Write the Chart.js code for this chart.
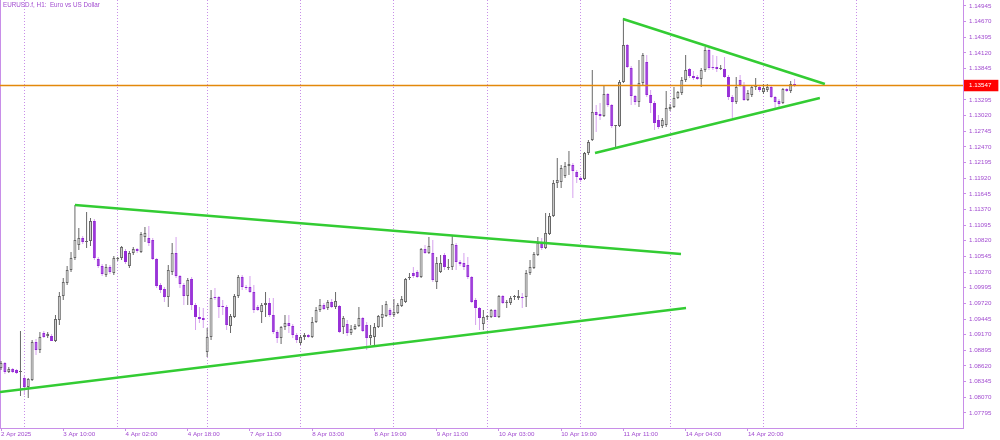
<!DOCTYPE html>
<html>
<head>
<meta charset="utf-8">
<title>EURUSD.f H1</title>
<script src="https://cdn.jsdelivr.net/npm/chart.js"></script>
<style>
  html, body { margin: 0; padding: 0; background: #fff; }
  #wrap { position: relative; width: 1000px; height: 440px; }
  #title {
    position: absolute; left: 3px; top: 1px;
    font: 6.3px 'Liberation Sans', Arial, sans-serif;
    color: #a24cd0; white-space: pre;
  }
</style>
</head>
<body>
<div id="wrap">
  <canvas id="chart"></canvas>
  <div id="title">EURUSD.f, H1:  Euro vs US Dollar</div>
</div>
<script>
// H1 bars, 2 Apr 2025 18:00 .. 15 Apr 2025 08:00 (bar index = x value)
var open = [
  1.08584, 1.08672, 1.08514, 1.08567, 1.08549, 1.08514, 1.08408, 1.08250, 1.08373, 1.09041,
  1.08901, 1.09199, 1.09146, 1.09146, 1.09059, 1.09428, 1.09850, 1.10078, 1.10306, 1.10517,
  1.10745, 1.10868, 1.10798, 1.10815, 1.11167, 1.10500, 1.10376, 1.10218, 1.10359, 1.10253,
  1.10500, 1.10517, 1.10640, 1.10376, 1.10605, 1.10675, 1.10623, 1.10886, 1.10868, 1.10833,
  1.10500, 1.10043, 1.09972, 1.09832, 1.10271, 1.10605, 1.10201, 1.10043, 1.09850, 1.10148,
  1.09691, 1.09480, 1.09463, 1.08866, 1.09129, 1.09832, 1.09832, 1.09674, 1.09656, 1.09322,
  1.09480, 1.09850, 1.10183, 1.10007, 1.10007, 1.09920, 1.09656, 1.09568, 1.09691, 1.09726,
  1.09515, 1.09217, 1.09111, 1.09305, 1.09375, 1.09322, 1.09164, 1.09024, 1.09129, 1.09164,
  1.09129, 1.09393, 1.09603, 1.09691, 1.09638, 1.09744, 1.09656, 1.09674, 1.09305, 1.09357,
  1.09199, 1.09270, 1.09322, 1.09463, 1.09340, 1.09111, 1.09129, 1.09305, 1.09463, 1.09498,
  1.09603, 1.09515, 1.09550, 1.09674, 1.09744, 1.10166, 1.10253, 1.10271, 1.10183, 1.10675,
  1.10605, 1.10605, 1.10095, 1.10271, 1.10570, 1.10341, 1.10359, 1.10745, 1.10447, 1.10429,
  1.10394, 1.10183, 1.09779, 1.09638, 1.09357, 1.09480, 1.09480, 1.09603, 1.09480, 1.09850,
  1.09726, 1.09726, 1.09832, 1.09814, 1.09832, 1.09832, 1.10253, 1.10341, 1.10570, 1.10780,
  1.10693, 1.10939, 1.11255, 1.11835, 1.11852, 1.11958, 1.12133, 1.12151, 1.12028, 1.11923,
  1.11905, 1.12362, 1.12590, 1.13082, 1.13047, 1.13012, 1.13398, 1.13205, 1.12836, 1.12836,
  1.13609, 1.14259, 1.13855, 1.13363, 1.13258, 1.13592, 1.13961, 1.13381, 1.13240, 1.12942,
  1.12836, 1.12854, 1.13135, 1.13170, 1.13328, 1.13416, 1.13644, 1.13838, 1.13715, 1.13697,
  1.13662, 1.13820, 1.14172, 1.13873, 1.13873, 1.13838, 1.13838, 1.13697, 1.13346, 1.13258,
  1.13644, 1.13557, 1.13293, 1.13381, 1.13521, 1.13521, 1.13434, 1.13469, 1.13521, 1.13346,
  1.13276, 1.13240, 1.13486, 1.13451, 1.13574
];
var high = [
  1.08707, 1.08690, 1.08602, 1.08584, 1.08567, 1.09234, 1.08443, 1.08408, 1.09076, 1.09094,
  1.09217, 1.09234, 1.09217, 1.09182, 1.09515, 1.09920, 1.10166, 1.10376, 1.10623, 1.11448,
  1.11044, 1.10903, 1.11325, 1.11220, 1.11202, 1.10535, 1.10411, 1.10411, 1.10394, 1.10552,
  1.10535, 1.10728, 1.10675, 1.10640, 1.10710, 1.10693, 1.10974, 1.11062, 1.11079, 1.10868,
  1.10517, 1.10078, 1.10007, 1.10394, 1.10780, 1.10886, 1.10218, 1.10078, 1.10166, 1.10183,
  1.09726, 1.09656, 1.09638, 1.09287, 1.09955, 1.09990, 1.09850, 1.09779, 1.09691, 1.09533,
  1.09885, 1.10218, 1.10218, 1.10043, 1.10201, 1.10043, 1.09691, 1.09726, 1.09920, 1.09814,
  1.09814, 1.09252, 1.09322, 1.09515, 1.09515, 1.09357, 1.09199, 1.09164, 1.09199, 1.09182,
  1.09480, 1.09656, 1.09797, 1.09726, 1.09779, 1.09797, 1.09920, 1.09691, 1.09498, 1.09428,
  1.09340, 1.09357, 1.09656, 1.09480, 1.09393, 1.09340, 1.09375, 1.09515, 1.09691, 1.09762,
  1.09638, 1.09797, 1.09726, 1.09850, 1.10166, 1.10253, 1.10359, 1.10306, 1.10693, 1.10745,
  1.10886, 1.10833, 1.10535, 1.10570, 1.10605, 1.10500, 1.10921, 1.10780, 1.10482, 1.10605,
  1.10535, 1.10201, 1.09814, 1.09656, 1.09603, 1.09515, 1.09621, 1.09621, 1.09867, 1.09867,
  1.09779, 1.09850, 1.09867, 1.09955, 1.09903, 1.10306, 1.10482, 1.10623, 1.10886, 1.10868,
  1.11307, 1.11307, 1.11887, 1.12274, 1.12151, 1.12204, 1.12397, 1.12186, 1.12063, 1.11958,
  1.12380, 1.12590, 1.13820, 1.13205, 1.13240, 1.13539, 1.13416, 1.13223, 1.12854, 1.13644,
  1.14734, 1.14277, 1.13890, 1.13381, 1.13996, 1.14119, 1.14084, 1.13469, 1.13276, 1.13029,
  1.12977, 1.13451, 1.13223, 1.13521, 1.13451, 1.13697, 1.14084, 1.13855, 1.13803, 1.13732,
  1.13855, 1.14224, 1.14207, 1.14084, 1.14066, 1.13908, 1.14049, 1.13732, 1.13381, 1.13697,
  1.13732, 1.13609, 1.13469, 1.13557, 1.13680, 1.13557, 1.13574, 1.13574, 1.13557, 1.13363,
  1.13311, 1.13504, 1.13504, 1.13627, 1.13662
];
var low = [
  1.08549, 1.08479, 1.08496, 1.08496, 1.08479, 1.08093, 1.08110, 1.08057, 1.08356, 1.08813,
  1.08848, 1.09111, 1.09111, 1.09059, 1.09041, 1.09340, 1.09779, 1.10043, 1.10271, 1.10482,
  1.10658, 1.10763, 1.10693, 1.10728, 1.10482, 1.10341, 1.10201, 1.10183, 1.10236, 1.10218,
  1.10465, 1.10482, 1.10411, 1.10341, 1.10570, 1.10605, 1.10605, 1.10798, 1.10728, 1.10482,
  1.09990, 1.09903, 1.09744, 1.09656, 1.10218, 1.10166, 1.09990, 1.09691, 1.09691, 1.09603,
  1.09252, 1.09375, 1.09287, 1.08778, 1.09076, 1.09779, 1.09463, 1.09515, 1.09252, 1.09199,
  1.09463, 1.09814, 1.09955, 1.09955, 1.09903, 1.09550, 1.09586, 1.09375, 1.09480, 1.09480,
  1.09182, 1.09024, 1.09006, 1.09252, 1.09199, 1.09111, 1.09024, 1.08989, 1.09076, 1.09111,
  1.09111, 1.09375, 1.09568, 1.09603, 1.09603, 1.09638, 1.09621, 1.09199, 1.09182, 1.09146,
  1.09164, 1.09252, 1.09305, 1.09217, 1.08901, 1.08989, 1.08989, 1.09287, 1.09305, 1.09480,
  1.09480, 1.09480, 1.09533, 1.09656, 1.09726, 1.10130, 1.10166, 1.10166, 1.10166, 1.10587,
  1.10587, 1.10095, 1.09972, 1.10253, 1.10306, 1.10306, 1.10306, 1.10306, 1.10376, 1.10306,
  1.10148, 1.09726, 1.09340, 1.09252, 1.09252, 1.09428, 1.09463, 1.09480, 1.09463, 1.09709,
  1.09638, 1.09691, 1.09779, 1.09779, 1.09638, 1.09656, 1.10218, 1.10324, 1.10552, 1.10658,
  1.10675, 1.10921, 1.11237, 1.11747, 1.11747, 1.11923, 1.11975, 1.11571, 1.11835, 1.11852,
  1.11887, 1.12327, 1.12573, 1.12731, 1.12942, 1.12994, 1.13170, 1.12801, 1.12467, 1.12819,
  1.13592, 1.13855, 1.13205, 1.13205, 1.13170, 1.13557, 1.13346, 1.13065, 1.12766, 1.12784,
  1.12801, 1.12819, 1.13100, 1.13152, 1.13311, 1.13381, 1.13609, 1.13680, 1.13644, 1.13644,
  1.13521, 1.13785, 1.13820, 1.13820, 1.13785, 1.13820, 1.13680, 1.13293, 1.12977, 1.13223,
  1.13521, 1.13276, 1.13276, 1.13346, 1.13469, 1.13434, 1.13398, 1.13434, 1.13328, 1.13152,
  1.13170, 1.13223, 1.13434, 1.13416, 1.13521
];
var close = [
  1.08672, 1.08514, 1.08567, 1.08514, 1.08496, 1.08531, 1.08250, 1.08391, 1.09041, 1.08901,
  1.09129, 1.09129, 1.09182, 1.09059, 1.09445, 1.09850, 1.10095, 1.10306, 1.10517, 1.10833,
  1.10868, 1.10798, 1.10815, 1.11167, 1.10517, 1.10376, 1.10236, 1.10359, 1.10271, 1.10517,
  1.10517, 1.10710, 1.10447, 1.10605, 1.10675, 1.10640, 1.10939, 1.10956, 1.10780, 1.10500,
  1.10025, 1.09955, 1.09832, 1.10306, 1.10605, 1.10201, 1.10060, 1.09850, 1.10130, 1.09691,
  1.09480, 1.09445, 1.09428, 1.09129, 1.09814, 1.09814, 1.09656, 1.09656, 1.09340, 1.09498,
  1.09850, 1.10183, 1.10007, 1.09990, 1.09920, 1.09603, 1.09603, 1.09691, 1.09726, 1.09515,
  1.09217, 1.09111, 1.09305, 1.09375, 1.09322, 1.09164, 1.09076, 1.09129, 1.09164, 1.09129,
  1.09393, 1.09603, 1.09691, 1.09621, 1.09744, 1.09656, 1.09762, 1.09217, 1.09463, 1.09199,
  1.09270, 1.09322, 1.09463, 1.09234, 1.09111, 1.09164, 1.09305, 1.09498, 1.09533, 1.09709,
  1.09515, 1.09568, 1.09691, 1.09797, 1.10148, 1.10183, 1.10201, 1.10183, 1.10675, 1.10605,
  1.10728, 1.10130, 1.10429, 1.10429, 1.10359, 1.10345, 1.10763, 1.10447, 1.10411, 1.10359,
  1.10183, 1.09744, 1.09638, 1.09463, 1.09480, 1.09485, 1.09603, 1.09480, 1.09850, 1.09726,
  1.09730, 1.09814, 1.09835, 1.09850, 1.09814, 1.10253, 1.10359, 1.10587, 1.10780, 1.10693,
  1.10956, 1.11255, 1.11835, 1.11887, 1.12098, 1.12133, 1.12168, 1.12045, 1.11940, 1.11887,
  1.12362, 1.12555, 1.13082, 1.13029, 1.13012, 1.13398, 1.13205, 1.12836, 1.12845, 1.13609,
  1.14259, 1.13873, 1.13363, 1.13258, 1.13592, 1.14084, 1.13381, 1.13240, 1.12889, 1.12819,
  1.12942, 1.13152, 1.13170, 1.13328, 1.13434, 1.13644, 1.13820, 1.13715, 1.13680, 1.13662,
  1.13820, 1.14172, 1.13855, 1.13855, 1.13838, 1.13842, 1.13697, 1.13346, 1.13258, 1.13521,
  1.13557, 1.13293, 1.13416, 1.13521, 1.13539, 1.13469, 1.13504, 1.13521, 1.13346, 1.13258,
  1.13223, 1.13486, 1.13451, 1.13574, 1.13547
];

var lastPrice = 1.13547;

// right-hand price scale
var priceTicks = [
  1.07795, 1.08070, 1.08345, 1.08620, 1.08895, 1.09170, 1.09445, 1.09720, 1.09995,
  1.10270, 1.10545, 1.10820, 1.11095, 1.11370, 1.11645, 1.11920, 1.12195, 1.12470,
  1.12745, 1.13020, 1.13295, 1.13845, 1.14120, 1.14395, 1.14670, 1.14945
];

// time axis labels (bar index -> text)
var labelBars = [0, 16, 32, 48, 64, 80, 96, 112, 128, 144, 160, 176, 192];
var timeLabels = [
  '2 Apr 2025', '3 Apr 10:00', '4 Apr 02:00', '4 Apr 18:00', '7 Apr 11:00',
  '8 Apr 03:00', '8 Apr 19:00', '9 Apr 11:00', '10 Apr 03:00', '10 Apr 19:00',
  '11 Apr 11:00', '14 Apr 04:00', '14 Apr 20:00'
];

// day separators (00:00 of each day)
var daySeparators = [6, 30, 53, 77, 101, 125, 149, 172, 196, 220];

// trend lines: start/end as (bar, price)
var trendStartX = [-0.26, 19.0, 159.9, 152.7];
var trendStartY = [1.08163, 1.11448, 1.14716, 1.12362];
var trendEndX = [176.1, 174.8, 211.8, 210.5];
var trendEndY = [1.09638, 1.10587, 1.13574, 1.13328];

var xMin = -0.26;
var xMax = 247.3;
var yMin = 1.07530;
var yMax = 1.15050;

(function() {
  'use strict';

  var axisColor = '#c88ee8';
  var labelColor = '#a24cd0';
  var tickFont = { family: "'Liberation Sans', Arial, sans-serif", size: 6.2 };

  function isBull(i) {
    return close[i] >= open[i];
  }

  var wickData = open.map(function(o, i) {
    return { x: i, y: [low[i], high[i]] };
  });
  var bodyData = open.map(function(o, i) {
    return { x: i, y: [o, close[i]] };
  });

  var datasets = [];

  // trend lines on top
  trendStartX.forEach(function(x0, k) {
    datasets.push({
      type: 'line',
      data: [{ x: x0, y: trendStartY[k] }, { x: trendEndX[k], y: trendEndY[k] }],
      borderColor: '#33cc33',
      borderWidth: 2.5,
      pointRadius: 0,
      fill: false,
      order: 0
    });
  });

  // bid line
  datasets.push({
    type: 'line',
    data: [{ x: xMin, y: lastPrice }, { x: xMax, y: lastPrice }],
    borderColor: '#e3880a',
    borderWidth: 1.6,
    pointRadius: 0,
    fill: false,
    order: 0
  });

  // candle bodies
  datasets.push({
    type: 'bar',
    data: bodyData,
    barThickness: 3,
    minBarLength: 1,
    grouped: false,
    inflateAmount: 0,
    borderSkipped: false,
    borderWidth: 1,
    backgroundColor: function(ctx) {
      return isBull(ctx.dataIndex) ? '#d2d2d2' : '#9428d6';
    },
    borderColor: function(ctx) {
      return isBull(ctx.dataIndex) ? '#666666' : '#9428d6';
    },
    order: 1
  });

  // wicks
  datasets.push({
    type: 'bar',
    data: wickData,
    barThickness: 1,
    grouped: false,
    inflateAmount: 0,
    borderWidth: 0,
    backgroundColor: function(ctx) {
      return isBull(ctx.dataIndex) ? '#686868' : '#d6a2ee';
    },
    order: 2
  });

  new Chart(document.getElementById('chart'), {
    type: 'bar',
    data: { datasets: datasets },
    options: {
      responsive: true,
      maintainAspectRatio: false,
      animation: false,
      events: [],
      layout: { padding: 0, autoPadding: false },
      plugins: {
        legend: { display: false },
        tooltip: { enabled: false },
        title: { display: false }
      },
      scales: {
        x: {
          type: 'linear',
          position: 'bottom',
          offset: false,
          min: xMin,
          max: xMax,
          bounds: 'data',
          grid: { offset: false, drawOnChartArea: false, drawTicks: true, tickLength: 3, color: axisColor },
          border: { color: axisColor, width: 1 },
          ticks: {
            autoSkip: false,
            maxRotation: 0,
            minRotation: 0,
            align: 'start',
            padding: 0,
            color: labelColor,
            font: tickFont,
            callback: function(value, index) {
              return timeLabels[index];
            }
          },
          afterBuildTicks: function(scale) {
            scale.ticks = labelBars.map(function(v) { return { value: v }; });
          },
          afterFit: function(scale) {
            scale.height = 12;
            scale.paddingLeft = 0;
            scale.paddingRight = 0;
          }
        },
        xs: {
          type: 'linear',
          position: 'top',
          offset: false,
          min: xMin,
          max: xMax,
          bounds: 'data',
          grid: { offset: false, color: axisColor, drawTicks: false, lineWidth: 1 },
          border: { display: false, dash: [1, 2] },
          ticks: { display: false },
          afterBuildTicks: function(scale) {
            scale.ticks = daySeparators.map(function(v) { return { value: v }; });
          },
          afterFit: function(scale) {
            scale.height = 0;
            scale.paddingLeft = 0;
            scale.paddingRight = 0;
          }
        },
        y: {
          type: 'linear',
          position: 'right',
          min: yMin,
          max: yMax,
          bounds: 'data',
          grid: { drawOnChartArea: false, drawTicks: true, tickLength: 3, color: axisColor },
          border: { color: axisColor, width: 1 },
          ticks: {
            autoSkip: false,
            padding: 3,
            font: tickFont,
            color: function(ctx) {
              return ctx.tick && ctx.tick.value === lastPrice ? '#ffffff' : labelColor;
            },
            showLabelBackdrop: function(ctx) {
              return !!(ctx.tick && ctx.tick.value === lastPrice);
            },
            backdropColor: '#ff0000',
            backdropPadding: { top: 2, bottom: 2, left: 5, right: 7 },
            callback: function(value) {
              return value.toFixed(5);
            }
          },
          afterBuildTicks: function(scale) {
            scale.ticks = priceTicks.concat([lastPrice])
              .sort(function(a, b) { return a - b; })
              .map(function(v) { return { value: v }; });
          },
          afterFit: function(scale) {
            scale.width = 37;
            scale.paddingTop = 0;
            scale.paddingBottom = 0;
          }
        },
        yl: {
          type: 'linear',
          position: 'left',
          grid: { display: true, drawOnChartArea: false, drawTicks: false },
          border: { color: axisColor, width: 1 },
          ticks: { display: false },
          afterFit: function(scale) {
            scale.width = 0;
            scale.paddingTop = 0;
            scale.paddingBottom = 0;
          }
        }
      }
    }
  });
})();
</script>
</body>
</html>
